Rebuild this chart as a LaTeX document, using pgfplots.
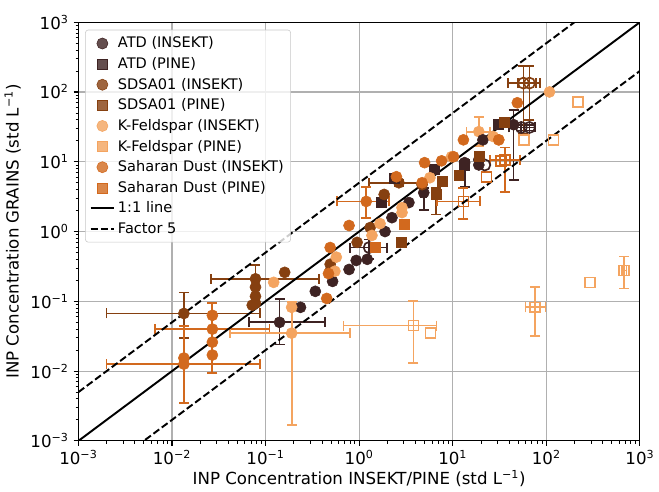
\documentclass[border=0pt]{standalone}
\usepackage{fontspec}
\setmainfont{DejaVu Sans}
\usepackage{pgfplots}
\pgfplotsset{compat=1.18}
\definecolor{atd}{RGB}{62,35,35}
\definecolor{sdsa}{RGB}{134,64,16}
\definecolor{kf}{RGB}{244,164,96}
\definecolor{sah}{RGB}{210,105,30}
\definecolor{gridc}{RGB}{176,176,176}
\newcommand{\ep}[1]{10\textsuperscript{#1}}
\pgfplotsset{
  ins/.style={only marks, mark=*, mark size=4pt, mark options={draw=#1, fill=#1}},
  pin/.style={only marks, mark=square*, mark size=3.6pt, mark options={draw=#1, fill=#1}},
  insopen/.style={only marks, mark=o, mark size=4pt, mark options={draw=#1, line width=1.2pt}, color=#1, forget plot},
  pinopen/.style={only marks, mark=square, mark size=3.6pt, mark options={draw=#1, line width=1.2pt}, color=#1, forget plot},
  eb/.style={error bars/x dir=both, error bars/y dir=both,
    error bars/x explicit, error bars/y explicit,
    error bars/error bar style={line width=1.3pt, #1},
    error bars/error mark options={rotate=90, line width=1.3pt, mark size=3.6pt, #1}},
}
\begin{document}
\begin{tikzpicture}
\begin{axis}[
  scale only axis, width=405pt, height=302pt,
  xmode=log, ymode=log,
  xmin=1e-3, xmax=1e3, ymin=1e-3, ymax=1e3,
  xtick={1e-3,1e-2,1e-1,1,10,100,1000},
  ytick={1e-3,1e-2,1e-1,1,10,100,1000},
  xticklabels={\ep{−3},\ep{−2},\ep{−1},\ep{0},\ep{1},\ep{2},\ep{3}},
  yticklabels={\ep{−3},\ep{−2},\ep{−1},\ep{0},\ep{1},\ep{2},\ep{3}},
  minor xtick={2e-3,3e-3,4e-3,5e-3,6e-3,7e-3,8e-3,9e-3,2e-2,3e-2,4e-2,5e-2,6e-2,7e-2,8e-2,9e-2,0.2,0.3,0.4,0.5,0.6,0.7,0.8,0.9,2,3,4,5,6,7,8,9,20,30,40,50,60,70,80,90,200,300,400,500,600,700,800,900},
  minor ytick={2e-3,3e-3,4e-3,5e-3,6e-3,7e-3,8e-3,9e-3,2e-2,3e-2,4e-2,5e-2,6e-2,7e-2,8e-2,9e-2,0.2,0.3,0.4,0.5,0.6,0.7,0.8,0.9,2,3,4,5,6,7,8,9,20,30,40,50,60,70,80,90,200,300,400,500,600,700,800,900},
  ticklabel style={font=\fontsize{12}{14}\selectfont},
  grid=major, major grid style={gridc, line width=0.8pt},
  tick align=outside, tick pos=left,
  major tick length=3.5pt, minor tick length=2pt,
  tick style={black, line width=0.8pt},
  minor tick style={black, line width=0.6pt},
  axis line style={black, line width=0.8pt},
  xlabel={INP Concentration INSEKT/PINE (std L\textsuperscript{−1})},
  ylabel={INP Concentration GRAINS (std L\textsuperscript{−1})},
  xlabel style={yshift=3pt},
  label style={font=\fontsize{12}{14}\selectfont},
  legend cell align=left,
  legend style={at={(0.012,0.982)}, anchor=north west, draw=gridc!70, rounded corners=2pt,
    fill=white, fill opacity=0.8, text opacity=1, font=\fontsize{10.5}{13}\selectfont,
    row sep=1.4pt, inner sep=3pt},
]
% error bars (drawn first)
\addplot[ins=sdsa, eb=sdsa, forget plot] coordinates {
 (0.0134,0.067) += (0.0736,0.067) -= (0.0114,0.037)
 (0.078,0.21) += (0.292,0.12) -= (0.052,0.122)
 (2.66,5.0) += (2.24,0.5) -= (1.38,0.5)
};
\addplot[ins=sah, eb=sah, forget plot] coordinates {
 (0.0134,0.0126) += (0.0736,0.0314) -= (0.0114,0.0091)
 (0.027,0.040) += (0.083,0.054) -= (0.0204,0.0307)
 (1.19,2.7) += (0.91,1.6) -= (0.61,1.12)
};
\addplot[ins=atd, eb=atd, forget plot] coordinates {
 (0.141,0.050) += (0.294,0.057) -= (0.074,0.026)
 (4.9,3.6) += (0.3,0.65) -= (0.3,1.54)
 (13.4,9.7) += (0.5,1.0) -= (0.5,5.3)
 (44.6,34) += (1,21) -= (1,28.5)
};
\addplot[ins=kf, eb=kf, forget plot] coordinates {
 (0.19,0.035) += (0.61,0.062) -= (0.148,0.0333)
 (19,27) += (6,17) -= (5,10)
};
\addplot[pin=sdsa, eb=sdsa, forget plot] coordinates {
 (6.6,3.4) += (0.3,0.85) -= (0.3,1.65)
};
\addplot[insopen=atd, eb=atd] coordinates {
 (1.28,0.59) += (0.72,0.18) -= (0.48,0.19)
 (54,31) += (12,3) -= (14,3)
 (66,31) += (9,3) -= (12,3)
};
\addplot[insopen=sdsa, eb=sdsa] coordinates {
 (57,134) += (21,101) -= (18,109)
 (66,134) += (19,101) -= (16,94)
};
\addplot[pinopen=sah, eb=sah] coordinates {
 (13,2.7) += (6.4,1.55) -= (6.25,1.17)
 (36,10.7) += (16,5.3) -= (11,7)
};
\addplot[pinopen=kf, eb=kf] coordinates {
 (3.8,0.045) += (2.9,0.055) -= (3.12,0.032)
 (76,0.082) += (22,0.078) -= (16,0.05)
 (676,0.277) += (44,0.163) -= (36,0.124)
};
% open markers without error bars
\addplot[pinopen=kf] coordinates {(5.8,0.035) (293,0.187) (58,20.6) (119,20.6) (218,72)};
\addplot[pinopen=sah] coordinates {(23,6.1) (33,10.2)};
\addplot[insopen=atd] coordinates {(22,9.0)};
% legend series
\addplot[ins=atd] coordinates {
 (0.236,0.082) (0.34,0.139) (0.52,0.193) (0.78,0.286) (0.93,0.385) (1.22,0.40)
 (1.89,1.0) (2.24,1.58) (3.4,2.6) (19,10.7) (21,20.6) (19,9.0)
};
\addlegendentry{ATD (INSEKT)}
\addplot[pin=atd] coordinates {
 (1.71,2.6) (2.4,5.8) (6.3,7.7) (13.4,9.0) (31,34)
};
\addlegendentry{ATD (PINE)}
\addplot[ins=sdsa] coordinates {
 (0.078,0.16) (0.078,0.118) (0.078,0.094) (0.072,0.088) (0.16,0.26)
 (0.49,0.34) (0.50,0.29) (0.95,0.70) (1.31,1.14) (1.85,3.4) (4.7,4.7)
};
\addlegendentry{SDSA01 (INSEKT)}
\addplot[pin=sdsa] coordinates {
 (2.8,0.70) (7.8,5.2) (11.6,6.5) (19,11.8) (35.7,37)
};
\addlegendentry{SDSA01 (PINE)}
\addplot[ins=kf] coordinates {
 (0.122,0.187) (0.19,0.082) (0.57,0.43) (0.55,0.27) (1.37,0.88) (1.67,1.30)
 (2.87,2.2) (2.87,1.87) (5.7,5.9) (9.7,11.8) (27,23) (31,20.6) (108,100)
};
\addlegendentry{K-Feldspar (INSEKT)}
\addplot[pin=kf] coordinates {(1e-5,1e-5)};
\addlegendentry{K-Feldspar (PINE)}
\addplot[ins=sah] coordinates {
 (0.0134,0.0154) (0.027,0.063) (0.027,0.026) (0.027,0.017) (0.45,0.11)
 (0.47,0.25) (0.49,0.59) (0.78,1.22) (2.5,6.1) (4.7,5.0) (5.0,9.7)
 (7.6,10.3) (10.2,11.8) (13,20.6) (31,20.6) (49,70)
};
\addlegendentry{Saharan Dust (INSEKT)}
\addplot[pin=sah] coordinates {(1.48,0.59) (3.0,1.26)};
\addlegendentry{Saharan Dust (PINE)}
% reference lines
\addplot[black, line width=1.4pt] coordinates {(1e-3,1e-3) (1e3,1e3)};
\addlegendentry{1:1 line}
\addplot[black, line width=1.4pt, dash pattern=on 5.2pt off 2.3pt] coordinates {(1e-3,5e-3) (1e3,5e3)};
\addlegendentry{Factor 5}
\addplot[black, line width=1.4pt, dash pattern=on 5.2pt off 2.3pt, forget plot] coordinates {(1e-3,2e-4) (1e3,200)};
\end{axis}
\path ([yshift=16pt]current axis.north);
\end{tikzpicture}
\end{document}
